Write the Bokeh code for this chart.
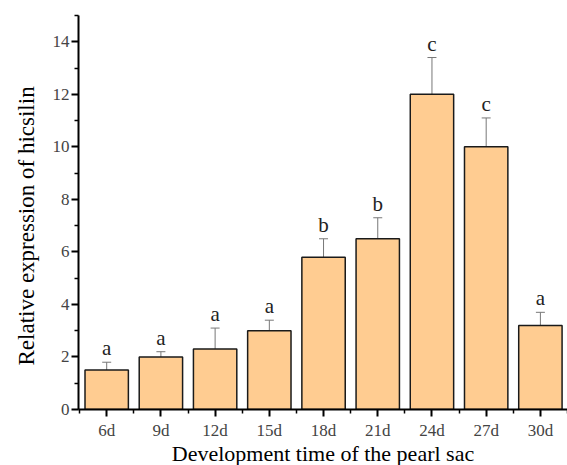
import numpy as np
from bokeh.plotting import figure
from bokeh.models import ColumnDataSource, Whisker, TeeHead, FixedTicker, Range1d, Title
from bokeh.core.properties import value
from bokeh.embed import file_html
from bokeh.resources import INLINE

categories = ["6d", "9d", "12d", "15d", "18d", "21d", "24d", "27d", "30d"]
means = [1.5, 2.0, 2.3, 3.0, 5.8, 6.5, 12.0, 10.0, 3.2]
errors = [0.3, 0.2, 0.8, 0.4, 0.7, 0.8, 1.4, 1.1, 0.5]
letters = ["a", "a", "a", "a", "b", "b", "c", "c", "a"]

xs = list(range(len(categories)))
src = ColumnDataSource(dict(
    x=xs, top=means,
    upper=[m + e for m, e in zip(means, errors)],
    lower=[m - e for m, e in zip(means, errors)],
    letter=letters,
))

FONT = "Liberation Serif"

p = figure(frame_width=489, frame_height=394, output_backend="svg", toolbar_location=None,
           x_range=Range1d(-0.52, 8.5), y_range=Range1d(0, 15))
p.min_border_left = 78
p.min_border_right = 0
p.min_border_top = 15
p.min_border_bottom = 0
p.outline_line_color = None
p.grid.visible = False
p.background_fill_color = "white"
p.border_fill_color = "white"

p.vbar(x="x", top="top", bottom=0, width=0.8, source=src,
       fill_color="#FFCC91", line_color="#1a1a1a", line_width=1.5)

w = Whisker(base="x", upper="upper", lower="lower", source=src,
            line_color="#777777", line_width=1,
            upper_head=TeeHead(size=9, line_color="#777777", line_width=1),
            lower_head=TeeHead(size=9, line_color="#777777", line_width=1))
p.add_layout(w)

p.text(x="x", y="upper", text="letter", source=src, text_align="center",
       text_baseline="bottom", y_offset=-2, text_font=value(FONT),
       text_font_size="21px", text_color="#222222")

p.xaxis.ticker = FixedTicker(ticks=xs, minor_ticks=[i - 0.5 for i in range(len(categories) + 1)])
p.xaxis.major_label_overrides = {i: c for i, c in enumerate(categories)}
p.yaxis.ticker = FixedTicker(ticks=list(range(0, 15, 2)), minor_ticks=list(range(1, 16, 2)))

for ax in (p.xaxis, p.yaxis):
    ax.axis_line_width = 2
    ax.axis_line_color = "black"
    ax.major_tick_line_color = "black"
    ax.major_tick_line_width = 2
    ax.minor_tick_line_color = "black"
    ax.minor_tick_line_width = 1.5
    ax.major_tick_out = 7
    ax.major_tick_in = 0
    ax.minor_tick_out = 4
    ax.minor_tick_in = 0
    ax.major_label_text_font = FONT
    ax.major_label_text_font_size = "17px"
    ax.major_label_text_color = "#444444"
    ax.axis_label_text_font = FONT
    ax.axis_label_text_font_style = "normal"
    ax.axis_label_text_color = "black"

p.xaxis.axis_label_text_font_size = "22px"
p.xaxis.axis_label = "Development time of the pearl sac"
p.xaxis.major_label_standoff = 4
p.yaxis.major_label_standoff = 2
p.xaxis.axis_label_standoff = -2

ytitle = Title(text="Relative expression of hicsilin", align="left", offset=44,
               text_font=FONT, text_font_size="23px", text_font_style="normal",
               text_color="black", standoff=22)
p.add_layout(ytitle, "left")

open("out.html", "w").write(file_html(p, INLINE))
